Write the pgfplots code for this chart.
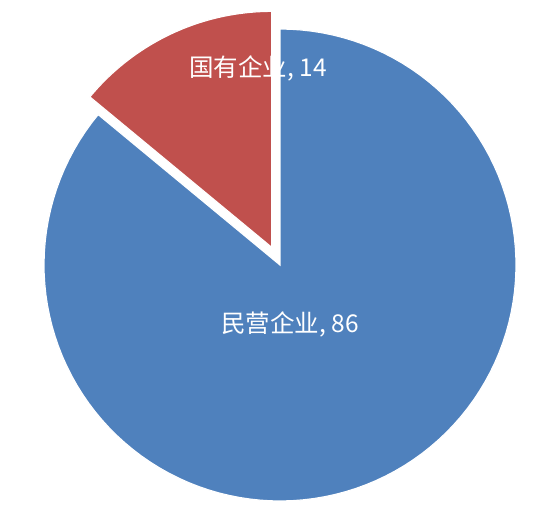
\documentclass[border=0pt]{standalone}
\usepackage{pgfplots}
\usepackage{pgfplotstable}
\pgfplotsset{compat=1.18}
\usepackage{fontspec}
\setmainfont{Noto Sans CJK SC}

\definecolor{pieblue}{RGB}{79,129,189}
\definecolor{piered}{RGB}{192,80,77}

% share of each group (%)
\pgfplotstableread{
label value
国有企业 14
民营企业 86
}\piedata

\begin{document}
\begin{tikzpicture}
\pgfplotstablegetelem{0}{value}\of\piedata \let\vred\pgfplotsretval
\pgfplotstablegetelem{1}{value}\of\piedata \let\vblue\pgfplotsretval
% angles, counter-clockwise from 12 o'clock
\pgfmathsetmacro{\ared}{90+3.6*\vred}
\pgfmathsetmacro{\ablue}{\ared+3.6*\vblue}
\pgfmathsetmacro{\amid}{90+1.8*\vred}
% centre and radius in picture units (px), red slice pulled out
\def\cx{280}\def\cy{244}\def\rr{236}\def\ex{19.5}
\pgfmathsetmacro{\rx}{\cx+\ex*cos(\amid)}
\pgfmathsetmacro{\ry}{\cy+\ex*sin(\amid)}
\begin{axis}[
    width=551bp, height=509bp,
    scale only axis,
    xmin=0, xmax=551, ymin=0, ymax=509,
    hide axis,
    clip=false,
]
\addplot[fill=pieblue, draw=white, line width=1.2pt, domain=\ared:\ablue, samples=120, variable=\t]
    ({\cx+\rr*cos(t)}, {\cy+\rr*sin(t)}) -- (axis cs:\cx,\cy) -- cycle;
\addplot[fill=piered, draw=white, line width=1.2pt, domain=90:\ared, samples=40, variable=\t]
    ({\rx+\rr*cos(t)}, {\ry+\rr*sin(t)}) -- (axis cs:\rx,\ry) -- cycle;
\node[text=white, font=\fontsize{24.5bp}{27bp}\selectfont] at (axis cs:258,441) {国有企业, 14};
\node[text=white, font=\fontsize{24.5bp}{27bp}\selectfont] at (axis cs:290,185) {民营企业, 86};
\end{axis}
\pgfresetboundingbox
\useasboundingbox (current axis.south west) rectangle (current axis.north east);
\end{tikzpicture}
\end{document}
